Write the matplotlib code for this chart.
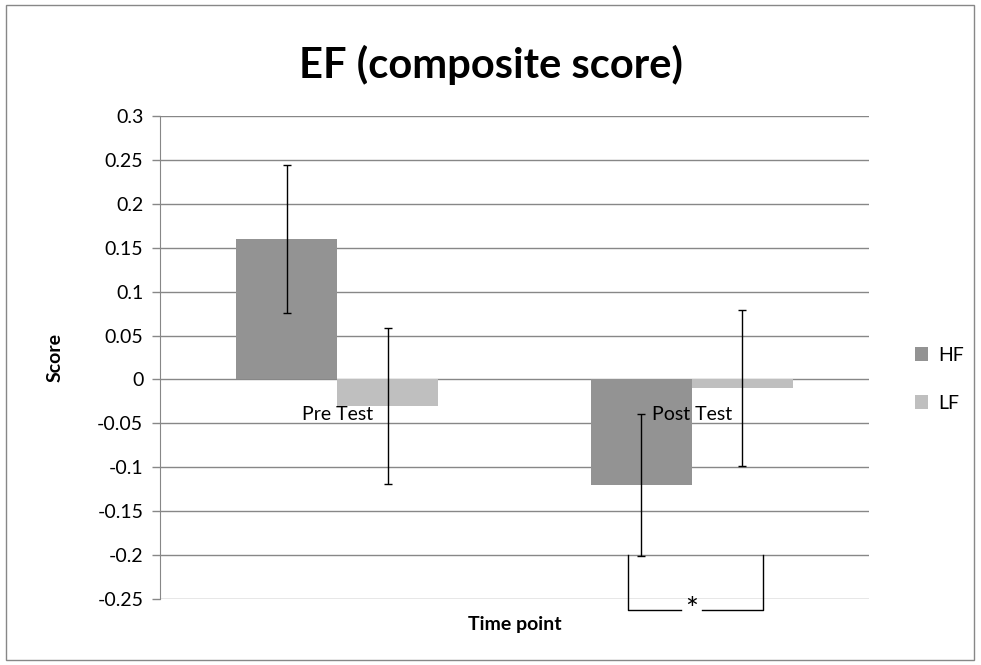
import numpy as np
import matplotlib
matplotlib.use('Agg')
from matplotlib import pyplot as plt
from matplotlib.patches import Rectangle

plt.rcParams['font.family'] = ['Lato', 'DejaVu Sans']

categories = ['Pre Test', 'Post Test']
series = ['HF', 'LF']
hf_values = [0.16, -0.12]
lf_values = [-0.03, -0.01]
hf_err = [0.084, 0.081]
lf_err = [0.089, 0.089]
y_ticks = [0.3, 0.25, 0.2, 0.15, 0.1, 0.05, 0, -0.05, -0.1, -0.15, -0.2, -0.25]

fig = plt.figure(figsize=(9.81, 6.65), dpi=100)
ax = fig.add_axes([160 / 981, 1 - 599 / 665, 709 / 981, 483 / 665])

x = np.arange(len(categories))
w = 0.285
err_kw = dict(ecolor='black', capsize=3, elinewidth=1.0, capthick=1.0)
ax.bar(x - w / 2, hf_values, w, color='#939393', label=series[0], yerr=hf_err,
       error_kw=err_kw, zorder=2)
ax.bar(x + w / 2, lf_values, w, color='#bfbfbf', label=series[1], yerr=lf_err,
       error_kw=err_kw, zorder=2)

ax.set_xlim(-0.5, 1.5)
ax.set_ylim(-0.25, 0.3)
ax.set_yticks(y_ticks)
ax.set_yticklabels([('%g' % v) for v in y_ticks], fontsize=14)
ax.set_xticks(x)
ax.set_xticklabels([])

# category labels sit on the zero line, above the bars
for xi, lab in zip(x, categories):
    ax.annotate(lab, (xi, 0), xytext=(0, -25), textcoords='offset points',
                ha='center', va='center', fontsize=14, zorder=5)

ax.grid(axis='y', color='#878787', linewidth=1.0, zorder=0)
for s in ['top', 'right', 'bottom']:
    ax.spines[s].set_visible(False)
ax.spines['left'].set_color('#878787')
ax.tick_params(axis='y', length=6, color='#878787', width=1.0, pad=6)
ax.tick_params(axis='x', length=0)

ax.set_ylabel('Score', fontsize=14, fontweight='bold', labelpad=24)
ax.text(0.5, -0.035, 'Time point', transform=ax.transAxes, ha='center', va='top',
        fontsize=14, fontweight='bold')

fig.text(0.5, 1 - 65 / 665, 'EF (composite score)', ha='center', va='center',
         fontsize=30, fontweight='bold')

leg = ax.legend(loc='center left', bbox_to_anchor=(1.04, 0.455), frameon=False,
                fontsize=14, handlelength=0.7, handleheight=0.7, labelspacing=1.6,
                handletextpad=0.5)

# significance bracket
bx0, bx1, by0, by1 = 0.82, 1.2, -0.2, -0.262
ax.plot([bx0, bx0, 0.97], [by0, by1, by1], color='black', lw=1.0, clip_on=False)
ax.plot([1.03, bx1, bx1], [by1, by1, by0], color='black', lw=1.0, clip_on=False)
ax.text(1.0, by1, '*', ha='center', va='center', fontsize=22, clip_on=False)

fig.add_artist(Rectangle((6 / 981, 5 / 665), 968 / 981, 655 / 665, transform=fig.transFigure,
                         fill=False, edgecolor='#878787', linewidth=1.0))

fig.savefig('out.png', dpi=100)
